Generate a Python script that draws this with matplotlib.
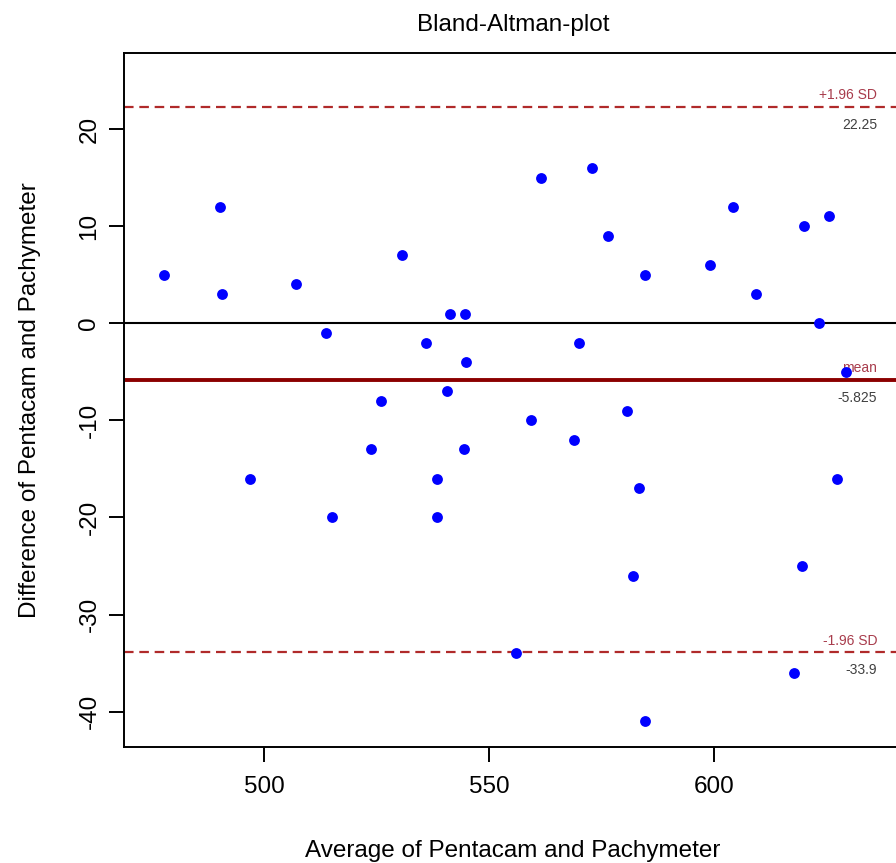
import numpy as np
import matplotlib
matplotlib.use("Agg")
import matplotlib.pyplot as plt
from matplotlib.transforms import blended_transform_factory

plt.rcParams['font.family'] = ['Liberation Sans', 'DejaVu Sans']
plt.rcParams['axes.unicode_minus'] = False

# averages and differences of the two devices
avg = [477.8, 490.2, 490.6, 496.9, 507.1, 513.8, 515.1, 523.7, 525.9, 530.7,
       536.1, 538.4, 538.4, 540.6, 541.3, 544.6, 545.0, 544.5, 556.0, 559.3,
       561.5, 569.0, 569.9, 573.0, 576.5, 580.6, 582.0, 583.3, 584.6, 584.6,
       599.2, 604.2, 609.4, 620.1, 619.6, 617.8, 623.3, 625.5, 627.3, 629.4]
diff = [5, 12, 3, -16, 4, -1, -20, -13, -8, 7,
        -2, -16, -20, -7, 1, 1, -4, -13, -34, -10,
        15, -12, -2, 16, 9, -9, -26, -17, 5, -41,
        6, 12, 3, 10, -25, -36, 0, 11, -16, -5]

mean_diff = np.mean(diff)          # -5.825
upper_loa = 22.25
lower_loa = -33.9

line_names = ['+1.96 SD', 'mean', '-1.96 SD']
line_values = [upper_loa, mean_diff, lower_loa]

x_ticks = [500, 550, 600]
y_ticks = [-40, -30, -20, -10, 0, 10, 20]

fig = plt.figure(figsize=(8.96, 8.63), dpi=100)
ax = fig.add_axes([124 / 896, 116 / 863, 778 / 896, 694 / 863])

ax.axhline(0, color='black', lw=1.5, zorder=1)
ax.axhline(mean_diff, color='#8b0000', lw=2.8, zorder=1)
for v in (upper_loa, lower_loa):
    ax.axhline(v, color='#b02a2a', lw=1.6, ls=(0, (4.3, 2.6)), zorder=1)

ax.plot(avg, diff, 'o', color='#0000ff', ms=7.8, mec='none', zorder=3)

# name above each line, value below, near the right border
trans = blended_transform_factory(ax.transAxes, ax.transData)
for name, v in zip(line_names, line_values):
    ax.annotate(name, xy=(1, v), xycoords=trans, xytext=(-18, 8.5),
                textcoords='offset points', ha='right', va='center',
                fontsize=10, color='#a83c4c', zorder=2)
    ax.annotate(f'{v:g}', xy=(1, v), xycoords=trans, xytext=(-18, -13),
                textcoords='offset points', ha='right', va='center',
                fontsize=10, color='#404040', zorder=2)

ax.set_xticks(x_ticks)
ax.set_yticks(y_ticks)
ax.set_xlim(468.89, 641.78)
ax.set_ylim(-43.64, 27.83)
ax.tick_params(axis='both', length=11, width=1.4, labelsize=17.5)
ax.tick_params(axis='x', pad=10)
ax.tick_params(axis='y', pad=6)
for lab in ax.get_yticklabels():
    lab.set_rotation(90)
    lab.set_va('center')
for s in ax.spines.values():
    s.set_linewidth(1.4)

ax.set_title('Bland-Altman-plot', fontsize=17.5, pad=16)
ax.set_xlabel('Average of Pentacam and Pachymeter', fontsize=17.5, labelpad=30)
ax.set_ylabel('Difference of Pentacam and Pachymeter', fontsize=17.5, labelpad=27)

fig.savefig('out.png', dpi=100)
